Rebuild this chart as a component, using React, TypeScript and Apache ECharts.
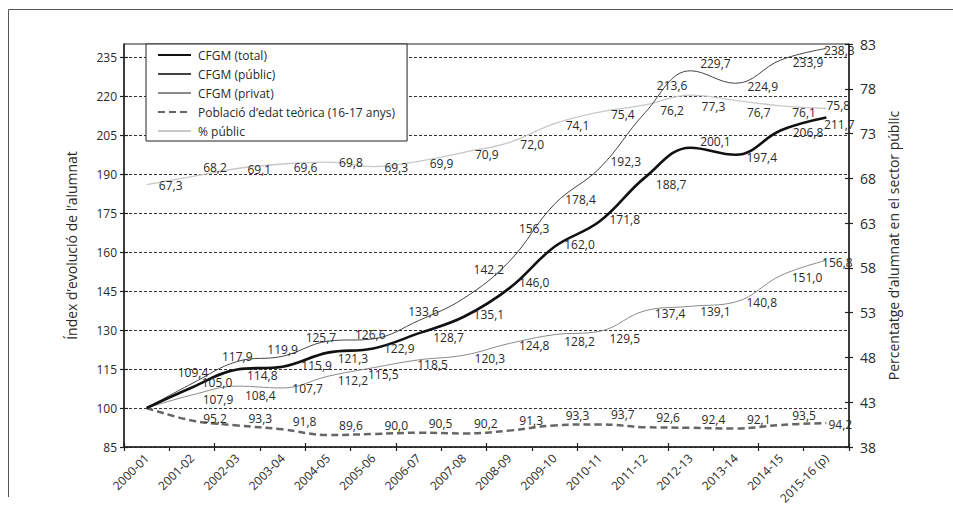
import React, { useEffect, useRef } from 'react';
import * as echarts from 'echarts';

const categories = [
  '2000-01', '2001-02', '2002-03', '2003-04', '2004-05', '2005-06', '2006-07', '2007-08',
  '2008-09', '2009-10', '2010-11', '2011-12', '2012-13', '2013-14', '2014-15', '2015-16 (p)',
];
const totalValues = [100, 107.9, 114.8, 115.9, 121.3, 122.9, 128.7, 135.1, 146.0, 162.0, 171.8, 188.7, 200.1, 197.4, 206.8, 211.7];
const publicValues = [100, 109.4, 117.9, 119.9, 125.7, 126.6, 133.6, 142.2, 156.3, 178.4, 192.3, 213.6, 229.7, 224.9, 233.9, 238.3];
const privateValues = [100, 105.0, 108.4, 107.7, 112.2, 115.5, 118.5, 120.3, 124.8, 128.2, 129.5, 137.4, 139.1, 140.8, 151.0, 156.8];
const populationValues = [100, 95.2, 93.3, 91.8, 89.6, 90.0, 90.5, 90.2, 91.3, 93.3, 93.7, 92.6, 92.4, 92.1, 93.5, 94.2];
const publicShareValues = [67.3, 68.2, 69.1, 69.6, 69.8, 69.3, 69.9, 70.9, 72.0, 74.1, 75.4, 76.2, 77.3, 76.7, 76.1, 75.8];
const leftTicks = [85, 100, 115, 130, 145, 160, 175, 190, 205, 220, 235];
const rightTicks = [38, 43, 48, 53, 58, 63, 68, 73, 78, 83];

const seriesNames = [
  'CFGM (total)',
  'CFGM (públic)',
  'CFGM (privat)',
  'Població d’edat teòrica (16-17 anys)',
  '% públic',
];

// label placement (pixel shifts from each point), style only
const pubOff = [[0, 0], [1, -11], [0, -5], [0, -7], [-7, -4], [-3, -4], [5, -9], [25, -29], [25, -33], [26, -5], [26, -7], [27, -27], [25, -7], [27, 3], [27, 3], [13, 2]];
const totOff = [[0, 0], [26, 12], [25, 6], [34, -1], [25, 6], [26, 0], [30, 4], [25, -2], [25, -6], [25, -2], [25, -2], [26, 7], [25, -6], [26, 3], [27, 2], [13, 7]];
const privOff = [[0, 0], [25, -13], [23, 9], [25, 1], [25, 4], [10, 7], [14, 5], [26, 3], [25, 2], [25, 7], [25, 7], [25, 3], [25, 5], [26, 1], [26, 2], [11, 2]];
const popOff = [[0, 0], [23, -2], [23, -7], [22, -8], [23, -10], [23, -9], [22, -9], [22, -10], [22, -10], [23, -10], [23, -10], [23, -10], [23, -8], [23, -9], [23, -9], [14, 1]];
const pctOff = [[24, 1], [23, -9], [22, 1], [23, 3], [23, 0], [23, 1], [23, 2], [23, 2], [23, 2], [23, 2], [23, 2], [27, 6], [23, 11], [23, 12], [23, 7], [12, -3]];

const FONT = '"Open Sans", "Noto Sans", sans-serif';
const TXT = '#2a2a2a';

const fmt = (v: number) => v.toFixed(1).replace('.', ',');

function labelSeries(values: number[], offsets: number[][], yAxisIndex: number, skipFirst: boolean) {
  return {
    type: 'scatter',
    yAxisIndex,
    silent: true,
    symbolSize: 1,
    z: 6,
    itemStyle: { color: 'rgba(0,0,0,0)' },
    label: {
      show: true,
      position: 'inside',
      color: TXT,
      opacity: 1,
      textBorderWidth: 0,
      textBorderColor: 'transparent',
      fontSize: 12,
      lineHeight: 11,
      fontFamily: FONT,
      formatter: (p: any) => fmt(Array.isArray(p.value) ? p.value[1] : p.value),
    },
    data: values.map((v, i) => (skipFirst && i === 0 ? '-' : { value: v, label: { offset: offsets[i] } })),
  };
}

export default function App() {
  const ref = useRef<HTMLDivElement>(null);
  useEffect(() => {
    if (!ref.current) return;
    const chart = echarts.init(ref.current, null, { renderer: 'svg' });
    const axisLineStyle = { color: '#222', width: 1.5 };
    const option: any = {
      animation: false,
      backgroundColor: '#fff',
      textStyle: { fontFamily: FONT },
      grid: { left: 124, right: 104, top: 44, bottom: 60, show: true, borderColor: '#222', borderWidth: 1 },
      legend: {
        data: seriesNames,
        orient: 'vertical',
        left: 146,
        top: 44,
        itemWidth: 33,
        itemHeight: 14,
        itemGap: 5,
        padding: [4, 12, 3, 11],
        backgroundColor: '#fff',
        borderColor: '#222',
        borderWidth: 1,
        itemStyle: { color: 'rgba(0,0,0,0)', borderWidth: 0, opacity: 0 },
        textStyle: { color: TXT, fontSize: 12, fontFamily: FONT, padding: [0, 0, 0, 2], lineHeight: 14 },
        selectedMode: false,
      },
      graphic: [
        { type: 'line', shape: { x1: 8.5, y1: 9.5, x2: 953, y2: 9.5 }, style: { stroke: '#555', lineWidth: 1 } },
        { type: 'line', shape: { x1: 8.5, y1: 9.5, x2: 8.5, y2: 497 }, style: { stroke: '#555', lineWidth: 1 } },
      ],
      xAxis: [
        {
          type: 'category',
          data: categories,
          position: 'bottom',
          boundaryGap: true,
          axisLine: { onZero: false, lineStyle: axisLineStyle },
          axisTick: { show: true, length: 4, lineStyle: { color: '#222', width: 1.2 } },
          axisLabel: { rotate: 45, interval: 0, fontSize: 12, color: TXT, fontFamily: FONT, margin: 9 },
          splitLine: { show: false },
        },
        {
          type: 'category',
          data: categories,
          position: 'bottom',
          boundaryGap: true,
          axisLine: { show: false, onZero: false },
          axisTick: { show: true, inside: true, length: 4, lineStyle: { color: '#222', width: 1.2 } },
          axisLabel: { show: false },
          splitLine: { show: false },
        },
      ],
      yAxis: [
        {
          type: 'value',
          position: 'left',
          min: 85,
          max: 240,
          name: 'Índex d’evolució de l’alumnat',
          nameLocation: 'middle',
          nameGap: 46,
          nameTextStyle: { fontSize: 14, color: TXT, fontFamily: FONT },
          axisLine: { show: true, lineStyle: axisLineStyle },
          axisTick: { show: true, length: 4, customValues: leftTicks, lineStyle: { color: '#222', width: 1.2 } },
          axisLabel: { customValues: leftTicks, fontSize: 12, color: TXT, fontFamily: FONT, margin: 7 },
          splitLine: { show: true, lineStyle: { color: '#333', width: 1, type: [3, 2] } },
        },
        {
          type: 'value',
          position: 'right',
          min: 38,
          max: 83,
          name: 'Percentatge d’alumnat en el sector públic',
          nameLocation: 'middle',
          nameGap: 37,
          nameTextStyle: { fontSize: 14, color: TXT, fontFamily: FONT },
          axisLine: { show: true, lineStyle: axisLineStyle },
          axisTick: { show: true, length: 4, customValues: rightTicks, lineStyle: { color: '#222', width: 1.2 } },
          axisLabel: { customValues: rightTicks, fontSize: 14, color: TXT, fontFamily: FONT, margin: 11 },
          splitLine: { show: false },
        },
        {
          type: 'value',
          position: 'left',
          min: 85,
          max: 240,
          axisLine: { show: false },
          axisTick: { show: true, inside: true, length: 4, customValues: leftTicks, lineStyle: { color: '#222', width: 1.2 } },
          axisLabel: { show: false },
          splitLine: { show: false },
        },
        {
          type: 'value',
          position: 'right',
          min: 38,
          max: 83,
          axisLine: { show: false },
          axisTick: { show: true, inside: true, length: 4, customValues: rightTicks, lineStyle: { color: '#222', width: 1.2 } },
          axisLabel: { show: false },
          splitLine: { show: false },
        },
      ],
      series: [
        {
          name: seriesNames[4], type: 'line', yAxisIndex: 1, data: publicShareValues, smooth: 0.4,
          symbol: 'none', lineStyle: { color: '#c8c8c8', width: 1.3 }, itemStyle: { color: '#c8c8c8' }, z: 2,
        },
        {
          name: seriesNames[3], type: 'line', yAxisIndex: 0, data: populationValues, smooth: 0.4,
          symbol: 'none', lineStyle: { color: '#666', width: 2.5, type: [7, 4] }, itemStyle: { color: '#666' }, z: 3,
        },
        {
          name: seriesNames[2], type: 'line', yAxisIndex: 0, data: privateValues, smooth: 0.4,
          symbol: 'none', lineStyle: { color: '#8a8a8a', width: 1 }, itemStyle: { color: '#8a8a8a' }, z: 3,
        },
        {
          name: seriesNames[1], type: 'line', yAxisIndex: 0, data: publicValues, smooth: 0.4,
          symbol: 'none', lineStyle: { color: '#444', width: 1 }, itemStyle: { color: '#444' }, z: 3,
        },
        {
          name: seriesNames[0], type: 'line', yAxisIndex: 0, data: totalValues, smooth: 0.4,
          symbol: 'none', lineStyle: { color: '#111', width: 2.6 }, itemStyle: { color: '#111' }, z: 4,
        },
        labelSeries(publicShareValues, pctOff, 1, false),
        labelSeries(populationValues, popOff, 0, true),
        labelSeries(privateValues, privOff, 0, true),
        labelSeries(publicValues, pubOff, 0, true),
        labelSeries(totalValues, totOff, 0, true),
      ],
    };
    chart.setOption(option);
    return () => chart.dispose();
  }, []);
  return <div ref={ref} style={{ position: 'absolute', left: 0, top: 0, width: 953, height: 507 }} />;
}
